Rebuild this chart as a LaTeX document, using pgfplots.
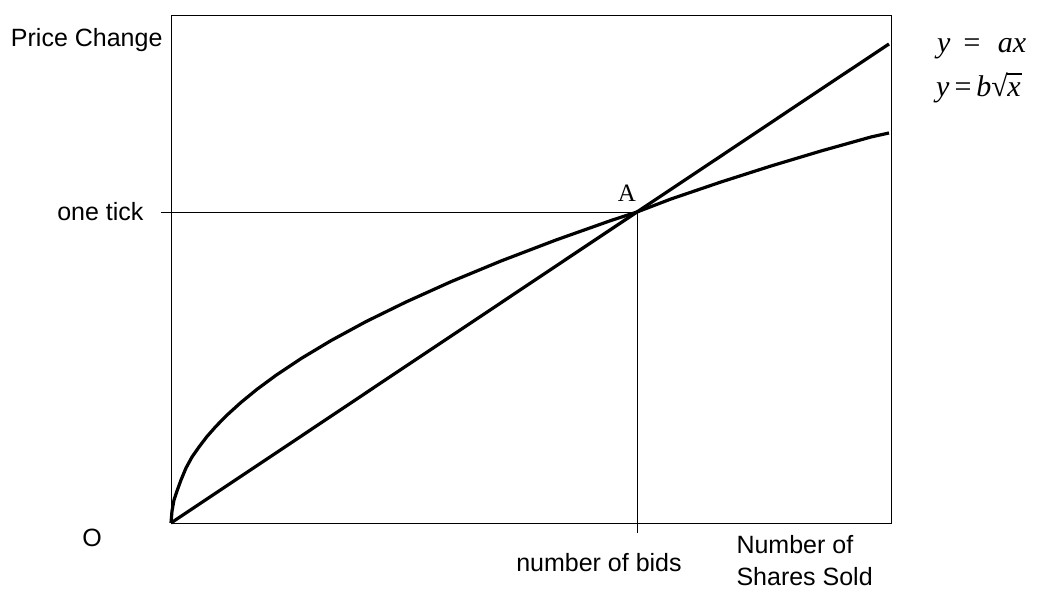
\documentclass[border=0pt]{standalone}
\usepackage{pgfplots}
\pgfplotsset{compat=1.18}
\usepackage{fontspec}
\setmainfont{Liberation Sans}
\newfontfamily\serif{Liberation Serif}
\begin{document}
\begin{tikzpicture}[x=1pt,y=1pt]
\useasboundingbox (0,0) rectangle (1044,599);
\begin{axis}[
  at={(171pt,76pt)}, anchor=south west,
  scale only axis, width=720pt, height=508pt,
  xmin=0, xmax=720, ymin=0, ymax=508,
  xtick=\empty, ytick=\empty,
  clip=false,
  axis line style={line width=0.8pt},
]
% guide lines through A
\addplot[line width=0.8pt] coordinates {(-10,311) (466,311) (466,-10)};
% y = a x
\addplot[line width=3.2pt, line join=round] coordinates {
(0,0) (50,33.4) (100,66.7) (150,100.1) (200,133.5) (250,166.9) (300,200.2)
(350,233.6) (400,267) (466,311) (500,333.7) (550,367) (600,400.4) (650,433.8) (718,479)};
% y = b sqrt(x)
\addplot[line width=3.2pt, line join=round] coordinates {
(0,0) (1,12) (3,23) (6,32) (10,43) (15,55) (21,66) (28,76) (36,86.5) (45,96.7)
(56,107.9) (70,120.6) (86,133.7) (105,147.7) (130,164.4) (160,182.4) (195,201.4)
(235,221) (280,241.3) (330,262) (385,283) (440,302.5) (466,311) (500,324)
(550,341) (600,357) (650,372) (700,386) (718,390)};
\node[anchor=east, font=\fontsize{25}{30}\selectfont] at (axis cs:-5,483) {Price Change};
\node[anchor=east, font=\fontsize{25}{30}\selectfont] at (axis cs:-24,311) {one tick};
\node[font=\fontsize{25}{30}\selectfont] at (axis cs:-79,-15) {O};
\node[font=\fontsize{25}{30}\selectfont] at (axis cs:428,-40) {number of bids};
\node[anchor=west, font=\fontsize{25}{30}\selectfont] at (axis cs:562,-22) {Number of};
\node[anchor=west, font=\fontsize{25}{30}\selectfont] at (axis cs:562,-54) {Shares Sold};
\node[font=\serif\fontsize{25}{30}\selectfont] at (axis cs:456,330) {A};
\node[anchor=base west, inner sep=0pt, font=\serif\itshape\fontsize{30}{34}\selectfont] at (axis cs:766,470) {y\hspace{11pt}=\hspace{16pt}ax};
\node[anchor=base west, inner sep=0pt, font=\serif\itshape\fontsize{30}{34}\selectfont] at (axis cs:765,426) {y\,{\upshape=}\,b{\upshape\char"221A}\kern-0.5pt\rlap{\rule[0.74em]{0.48em}{0.045em}}x};
\end{axis}
\end{tikzpicture}
\end{document}
